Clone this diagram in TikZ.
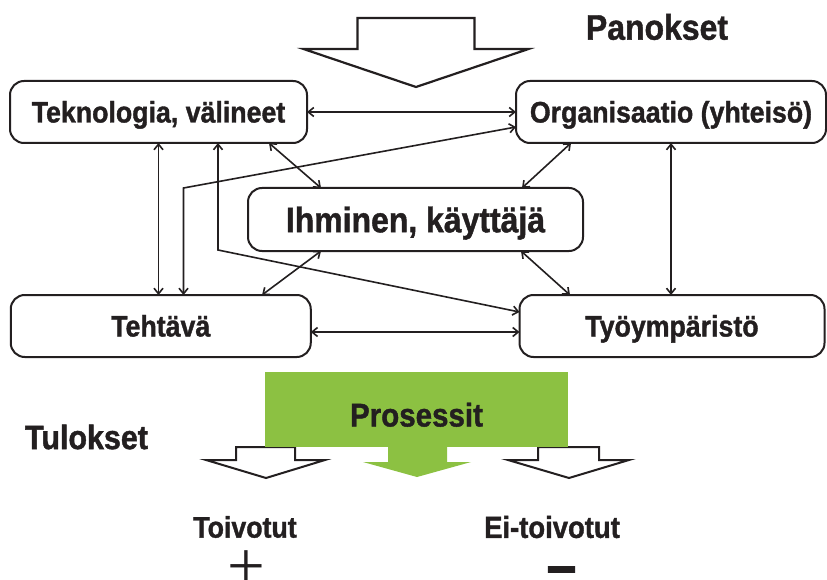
\documentclass[tikz,border=0pt]{standalone}
\usepackage{fontspec}
\setmainfont{Liberation Sans}[FakeStretch=0.9, BoldFeatures={FakeBold=1.2}]
\newfontfamily\signfont{Liberation Serif}
\usetikzlibrary{arrows.meta}
\definecolor{ink}{HTML}{231F20}
\definecolor{procgreen}{HTML}{8CC142}
\begin{document}
\begin{tikzpicture}[x=1pt,y=-1pt,
  unitbox/.style={draw=ink, line width=2pt, rounded corners=14pt, fill=white,
    outer sep=0pt, inner sep=0pt, text=ink,
    font=\fontsize{29.7}{32}\selectfont\bfseries, text height=21pt, text depth=0pt},
  link/.style={draw=ink, line width=1.6pt,
    {Straight Barb[length=5.5pt,width=9pt]}-{Straight Barb[length=5.5pt,width=9pt]}},
  blockarrow/.style={draw=ink, line width=2.2pt, fill=white, line join=miter},
  heading/.style={text=ink, inner sep=0pt},
]
\useasboundingbox[fill=white] (0,0) rectangle (827,580);

% top input arrow
\draw[blockarrow] (357.5,18) -- (474.5,18) -- (474.5,49) -- (528.5,49) -- (416,87)
  -- (303.5,49) -- (357.5,49) -- cycle;
\node[heading, font=\fontsize{35.5}{38}\selectfont\bfseries] (pan) at (657,27) {Panokset};

% boxes
\node[unitbox, minimum width=297pt, minimum height=62pt] (tek) at (158.5,112) {Teknologia, välineet};
\node[unitbox, minimum width=310pt, minimum height=62pt] (org) at (671,112) {Organisaatio (yhteisö)};
\node[unitbox, minimum width=335pt, minimum height=63pt,
  font=\fontsize{35.5}{38}\selectfont\bfseries, text height=25.5pt] (ihm) at (415.5,219.5) {Ihminen, käyttäjä};
\node[unitbox, minimum width=300pt, minimum height=62pt] (teh) at (160.75,326) {Tehtävä};
\node[unitbox, minimum width=305pt, minimum height=62pt] (tyo) at (672,326) {Työympäristö};

% connectors
\draw[link] (tek.east) -- (org.west);
\draw[link] (tek.south) -- (tek.south |- teh.north);
\draw[link] ([xshift=59.5pt]tek.south) -- ++(0,107) -- ([yshift=14pt]tyo.west);
\draw[link] ([xshift=22.75pt]teh.north) -- ++(0,-107) -- ([yshift=-15pt]org.west);
\draw[link] ([xshift=110.5pt]tek.south) -- ([xshift=-94.5pt]ihm.north);
\draw[link] ([xshift=-100pt]org.south) -- ([xshift=106.5pt]ihm.north);
\draw[link] (org.south) -- (org.south |- tyo.north);
\draw[link] ([xshift=-94.5pt]ihm.south) -- ([xshift=101.25pt]teh.north);
\draw[link] ([xshift=105.5pt]ihm.south) -- ([xshift=-102pt]tyo.north);
\draw[link] ([yshift=-6pt]teh.east) -- ([yshift=-6pt]tyo.west);

% output arrows
\draw[blockarrow, line width=2pt] (236,447) -- (295,447) -- (295,460) -- (325,460) -- (266,478)
  -- (206,460) -- (236,460) -- cycle;
\draw[blockarrow, line width=2pt] (538,447) -- (599,447) -- (599,460) -- (629,460) -- (569,478)
  -- (508,460) -- (538,460) -- cycle;
\fill[procgreen] (388,446) -- (447,446) -- (447,462) -- (471,462) -- (417,477)
  -- (363,462) -- (388,462) -- cycle;

% process box
\node[fill=procgreen, minimum width=303pt, minimum height=75pt, inner sep=0pt, outer sep=0pt,
  text=ink, font=\fontsize{32.8}{35}\selectfont\bfseries, text height=34pt, text depth=0pt]
  (proc) at (416.5,409.5) {Prosessit};

\node[heading, font=\fontsize{33.8}{36}\selectfont\bfseries] (tul) at (86.5,437) {Tulokset};
\node[heading, font=\fontsize{29.7}{32}\selectfont\bfseries] (toi) at (245,527) {Toivotut};
\node[heading, font=\fontsize{30.5}{33}\selectfont\bfseries] (ei) at (552,527) {Ei-toivotut};
\node[heading, font=\fontsize{67}{70}\signfont] (plus) at (246,570) {+};
\node[heading, font=\fontsize{60}{62}\selectfont\bfseries] (minus) at (561.5,576) {–};
\end{tikzpicture}
\end{document}
